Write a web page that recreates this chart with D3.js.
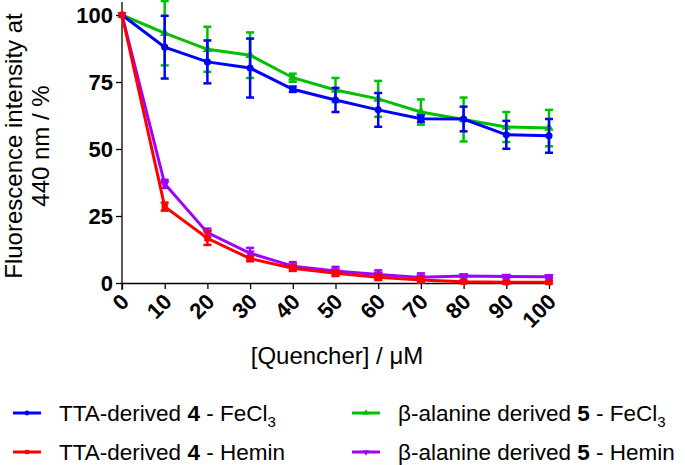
<!DOCTYPE html>
<html><head><meta charset="utf-8">
<script src="https://cdn.jsdelivr.net/npm/d3@7"></script>
<style>body{margin:0;background:#fff}svg{display:block}text{font-family:"Liberation Sans",Arial,sans-serif}</style>
</head><body><svg id="c" width="685" height="465"></svg>
<script>
const xValues=[0,10,20,30,40,50,60,70,80,90,100];
const xTicks=[0,10,20,30,40,50,60,70,80,90,100];
const yTicks=[0,25,50,75,100];
const ttaFe=[100,88,82.5,80.2,72.3,68.3,64.6,61.3,61.2,55.3,54.9];
const ttaFeErr=[0,11.7,8,11,1,4.5,6.3,1.2,4.6,5.2,6.3];
const alaFe=[100,93.2,87.2,85,76.6,72,68.7,63.8,61,58.2,57.8];
const alaFeErr=[0,12,8.4,8.5,1.5,4.5,6.7,4.7,8.2,5.6,6.8];
const ttaHe=[100,28.5,16.7,9.1,5.5,3.6,2.1,1.1,0.5,0.3,0.3];
const ttaHeErr=[0,1.5,2.5,1,1,1,1,1,0.5,0.5,0.5];
const alaHe=[100,37,18.8,11.1,6.3,4.5,3.2,2.1,2.6,2.4,2.3];
const alaHeErr=[0,1.5,1.5,2,1.5,1.5,1.5,1.5,0.5,0.5,0.5];

const series=[
 {name:"TTA-derived",num:"4",q:"FeCl",sub:"3",v:ttaFe,e:ttaFeErr,c:"#0000ff",sym:d3.symbolCircle},
 {name:"β-alanine derived",num:"5",q:"FeCl",sub:"3",v:alaFe,e:alaFeErr,c:"#00c000",sym:d3.symbolTriangle},
 {name:"TTA-derived",num:"4",q:"Hemin",sub:"",v:ttaHe,e:ttaHeErr,c:"#ff0000",sym:d3.symbolSquare},
 {name:"β-alanine derived",num:"5",q:"Hemin",sub:"",v:alaHe,e:alaHeErr,c:"#a000ff",sym:d3.symbolTriangle,flip:true}
];
const svg=d3.select("#c");
const x=d3.scaleLinear().domain([0,100]).range([122,549]);
const y=d3.scaleLinear().domain([0,100]).range([283,15]);

// axes
const ya=svg.append("g").attr("transform","translate(122,0)")
 .call(d3.axisLeft(y).tickValues(yTicks).tickSize(6).tickPadding(3).tickSizeOuter(0));
ya.select(".domain").attr("d","M0,2V290");
ya.selectAll("line,path").attr("stroke","#000").attr("stroke-width",1.3);
ya.selectAll("text").attr("font-size",22).attr("font-weight","bold").attr("fill","#000").attr("dy","0.36em");
const xa=svg.append("g").attr("transform","translate(0,283)")
 .call(d3.axisBottom(x).tickValues(xTicks).tickSize(6).tickSizeOuter(0));
xa.selectAll("line,path").attr("stroke","#000").attr("stroke-width",1.3);
xa.selectAll("text").attr("font-size",22).attr("font-weight","bold").attr("fill","#000")
 .attr("text-anchor","end").attr("dy","0").attr("y",0)
 .attr("transform","translate(8,20) rotate(-45)");

// titles
svg.append("text").attr("x",337).attr("y",364).attr("text-anchor","middle").attr("font-size",24).text("[Quencher] / μM");
const yt=svg.append("text").attr("transform","translate(0,146) rotate(-90)").attr("text-anchor","middle").attr("font-size",24);
yt.append("tspan").attr("x",0).attr("y",22).text("Fluorescence intensity at");
yt.append("tspan").attr("x",0).attr("y",49).text("440 nm / %");

const line=d3.line().x((d,i)=>x(xValues[i])).y(d=>y(d));
const order=[1,0,3,2];
order.forEach(k=>{
 const s=series[k];
 const g=svg.append("g");
 g.append("path").attr("d",line(s.v)).attr("fill","none").attr("stroke",s.c).attr("stroke-width",3);
 s.v.forEach((v,i)=>{
  const e=s.e[i]; if(e<=0) return;
  const cx=x(xValues[i]);
  g.append("line").attr("x1",cx).attr("x2",cx).attr("y1",y(v+e)).attr("y2",y(v-e)).attr("stroke",s.c).attr("stroke-width",2.5);
  [v+e,v-e].forEach(w=>g.append("line").attr("x1",cx-4).attr("x2",cx+4).attr("y1",y(w)).attr("y2",y(w)).attr("stroke",s.c).attr("stroke-width",2.5));
 });
 g.selectAll("path.m").data(s.v).enter().append("path").attr("class","m")
  .attr("d",d3.symbol().type(s.sym).size(40))
  .attr("transform",(d,i)=>`translate(${x(xValues[i])},${y(d)})${s.flip?" rotate(180)":""}`)
  .attr("fill",s.c);
});

// legend
const leg=[{s:series[0],x:13,y:413},{s:series[2],x:13,y:452},{s:series[1],x:352,y:413},{s:series[3],x:352,y:452}];
leg.forEach(L=>{
 const g=svg.append("g");
 g.append("line").attr("x1",L.x).attr("x2",L.x+28).attr("y1",L.y).attr("y2",L.y).attr("stroke",L.s.c).attr("stroke-width",3);
 g.append("path").attr("d",d3.symbol().type(L.s.sym).size(18)).attr("transform",`translate(${L.x+14},${L.y})${L.s.flip?" rotate(180)":""}`).attr("fill",L.s.c);
 const t=g.append("text").attr("x",L.x+46).attr("y",L.y+8).attr("font-size",22.5);
 t.append("tspan").text(L.s.name+" ");
 t.append("tspan").attr("font-weight","bold").text(L.s.num);
 t.append("tspan").text(" - "+L.s.q);
 if(L.s.sub) t.append("tspan").attr("font-size",15).attr("dy",6).text(L.s.sub);
});
</script></body></html>
